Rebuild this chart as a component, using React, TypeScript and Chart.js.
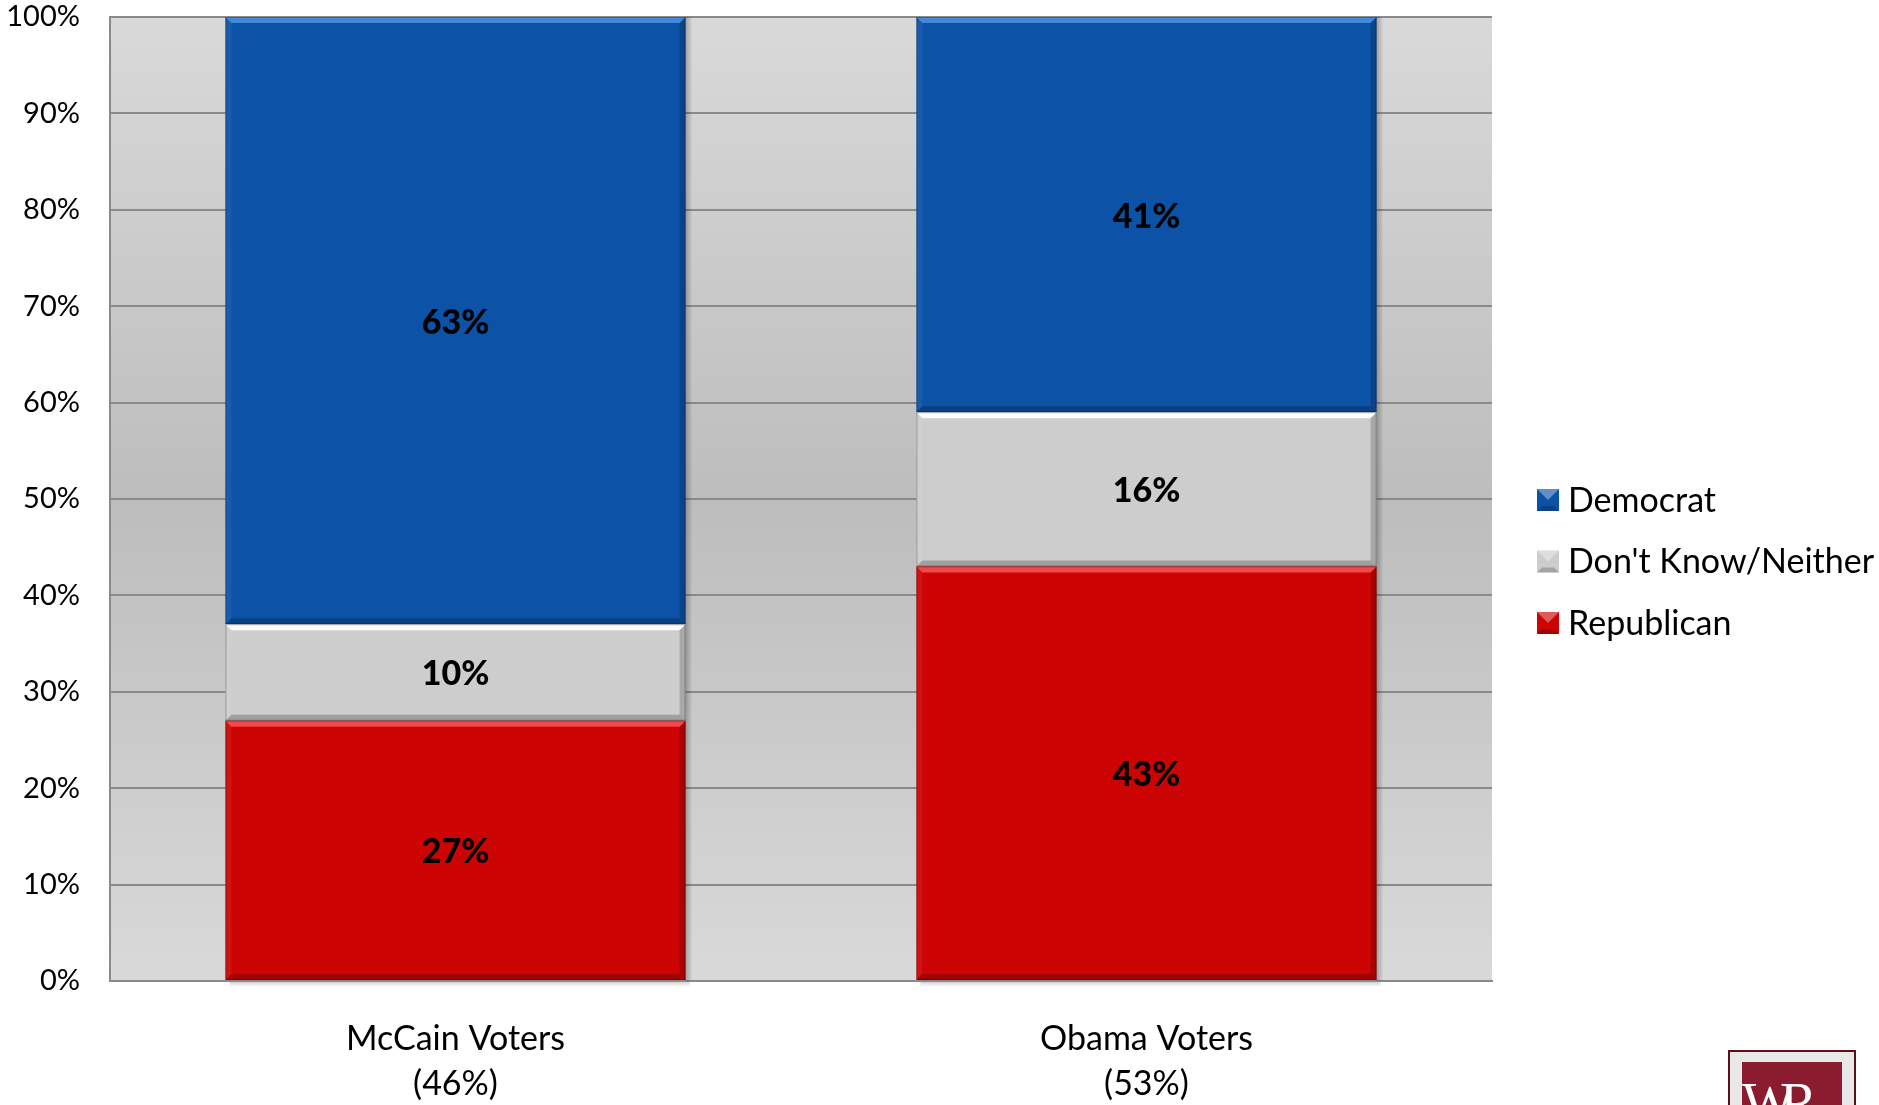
import React, { useEffect, useRef } from "react";
import { Chart, registerables } from "chart.js";

Chart.register(...registerables);

const categories: string[][] = [["McCain Voters", "(46%)"], ["Obama Voters", "(53%)"]];
const republican = [27, 43];
const dontKnow = [10, 16];
const democrat = [63, 41];
const yTicks = [0, 10, 20, 30, 40, 50, 60, 70, 80, 90, 100];

const FONT = "Lato, 'Open Sans', sans-serif";

const bgPlugin = {
  id: "bgGradient",
  beforeDraw(chart: any) {
    const { ctx, chartArea: a } = chart;
    const g = ctx.createLinearGradient(0, a.top, 0, a.bottom);
    g.addColorStop(0, "#d9d9d9");
    g.addColorStop(0.5, "#bdbdbd");
    g.addColorStop(1, "#d9d9d9");
    ctx.save();
    ctx.fillStyle = g;
    ctx.fillRect(a.left, a.top, a.right - a.left, a.bottom - a.top);
    ctx.restore();
  },
};

const bevelPlugin = {
  id: "bevel",
  afterDatasetsDraw(chart: any) {
    const ctx = chart.ctx;
    ctx.save();
    const meta0 = chart.getDatasetMeta(0);
    meta0.data.forEach((el: any) => {
      const l = el.x - el.width / 2;
      const r = el.x + el.width / 2;
      const top = chart.chartArea.top;
      const bottom = chart.chartArea.bottom;
      const g = ctx.createLinearGradient(r, 0, r + 7, 0);
      g.addColorStop(0, "rgba(0,0,0,0.25)");
      g.addColorStop(1, "rgba(0,0,0,0)");
      ctx.fillStyle = g;
      ctx.fillRect(r, top, 7, bottom - top);
      const g2 = ctx.createLinearGradient(0, bottom, 0, bottom + 6);
      g2.addColorStop(0, "rgba(0,0,0,0.2)");
      g2.addColorStop(1, "rgba(0,0,0,0)");
      ctx.fillStyle = g2;
      ctx.fillRect(l + 4, bottom + 1, r - l, 6);
    });
    chart.data.datasets.forEach((ds: any, di: number) => {
      const meta = chart.getDatasetMeta(di);
      meta.data.forEach((el: any) => {
        const l = el.x - el.width / 2;
        const r = el.x + el.width / 2;
        const t = Math.min(el.y, el.base);
        const b = Math.max(el.y, el.base);
        const s = 6;
        const hl = ds.bevelLight || "rgba(255,255,255,0.35)";
        const poly = (pts: number[][], c: string) => {
          ctx.beginPath();
          ctx.moveTo(pts[0][0], pts[0][1]);
          for (let k = 1; k < pts.length; k++) ctx.lineTo(pts[k][0], pts[k][1]);
          ctx.closePath();
          ctx.fillStyle = c;
          ctx.fill();
        };
        poly([[l, t], [r, t], [r - s, t + s], [l + s, t + s]], hl);
        poly([[l, t], [l + s, t + s], [l + s, b - s], [l, b]], "rgba(255,255,255,0.06)");
        poly([[r, t], [r, b], [r - s, b - s], [r - s, t + s]], "rgba(0,0,0,0.18)");
        poly([[l, b], [l + s, b - s], [r - s, b - s], [r, b]], "rgba(0,0,0,0.22)");
        ctx.strokeStyle = "rgba(0,0,0,0.25)";
        ctx.lineWidth = 1;
        ctx.strokeRect(l + 0.5, t + 0.5, r - l - 1, b - t - 1);
      });
    });
    ctx.restore();
  },
};

const labelPlugin = {
  id: "valueLabels",
  afterDatasetsDraw(chart: any) {
    const ctx = chart.ctx;
    ctx.save();
    ctx.font = `900 34px ${FONT}`;
    ctx.fillStyle = "#000";
    ctx.textAlign = "center";
    ctx.textBaseline = "middle";
    chart.data.datasets.forEach((ds: any, di: number) => {
      const meta = chart.getDatasetMeta(di);
      meta.data.forEach((el: any, i: number) => {
        const v = ds.data[i];
        ctx.fillText(`${v}%`, el.x, (el.y + el.base) / 2 + 2);
      });
    });
    ctx.restore();
  },
};

const legendPlugin = {
  id: "customLegend",
  afterDraw(chart: any) {
    const ctx = chart.ctx;
    const items = [...chart.data.datasets].reverse();
    const x0 = 1537;
    const y0 = 500;
    const gap = 61.5;
    ctx.save();
    ctx.font = `34px ${FONT}`;
    ctx.textBaseline = "middle";
    ctx.textAlign = "left";
    items.forEach((ds: any, i: number) => {
      const cy = y0 + i * gap;
      const sz = 22;
      const l = x0, t = cy - sz / 2;
      ctx.fillStyle = ds.backgroundColor;
      ctx.fillRect(l, t, sz, sz);
      const s = 5;
      ctx.fillStyle = "rgba(255,255,255,0.35)";
      ctx.beginPath();
      ctx.moveTo(l, t); ctx.lineTo(l + sz, t); ctx.lineTo(l + sz / 2, t + sz / 2); ctx.closePath(); ctx.fill();
      ctx.fillStyle = "rgba(0,0,0,0.2)";
      ctx.beginPath();
      ctx.moveTo(l, t + sz); ctx.lineTo(l + sz, t + sz); ctx.lineTo(l + sz - s, t + sz - s); ctx.lineTo(l + s, t + sz - s); ctx.closePath(); ctx.fill();
      ctx.fillStyle = "#000";
      ctx.fillText(ds.label, 1568, cy + 1);
    });
    ctx.restore();
  },
};

const logoPlugin = {
  id: "logo",
  afterDraw(chart: any) {
    const ctx = chart.ctx;
    ctx.save();
    const l = 1728, t = 1050, w = 128, h = 60;
    ctx.fillStyle = "#5a0f1c";
    ctx.fillRect(l, t, w, h);
    ctx.fillStyle = "#e8e8e8";
    ctx.fillRect(l + 2, t + 2, w - 4, h);
    ctx.fillStyle = "#8b1c2f";
    ctx.fillRect(l + 14, t + 12, w - 28, h);
    ctx.fillStyle = "#ffffff";
    ctx.font = "56px 'Liberation Serif', serif";
    ctx.textBaseline = "alphabetic";
    ctx.textAlign = "left";
    ctx.fillText("W", l + 14, t + 72);
    ctx.fillText("R", l + 52, t + 72);
    ctx.restore();
  },
};

export default function App() {
  const ref = useRef<HTMLCanvasElement | null>(null);
  useEffect(() => {
    if (!ref.current) return;
    const chart = new Chart(ref.current, {
      type: "bar",
      data: {
        labels: categories,
        datasets: [
          { label: "Republican", data: republican, backgroundColor: "#cc0404", bevelLight: "rgba(255,90,90,0.8)" } as any,
          { label: "Don't Know/Neither", data: dontKnow, backgroundColor: "#cdcdcd", bevelLight: "rgba(255,255,255,0.95)" } as any,
          { label: "Democrat", data: democrat, backgroundColor: "#0c52a6", bevelLight: "rgba(80,150,230,0.8)" } as any,
        ],
      },
      options: {
        responsive: false,
        animation: false,
        events: [],
        layout: { padding: { top: 17, right: 387, bottom: 0, left: 0 } },
        datasets: { bar: { categoryPercentage: 1, barPercentage: 0.666, borderWidth: 0 } },
        plugins: { legend: { display: false }, tooltip: { enabled: false } },
        scales: {
          x: {
            stacked: true,
            grid: { display: false, drawTicks: false },
            border: { display: true, color: "#8a8a8a", width: 2 },
            ticks: {
              color: "#000",
              padding: 36,
              font: { family: FONT, size: 34, lineHeight: 1.32 },
              maxRotation: 0,
            },
            afterFit: (s: any) => { s.height = 124; s.paddingLeft = 0; s.paddingRight = 0; },
          },
          y: {
            stacked: true,
            min: 0,
            max: 100,
            afterBuildTicks: (s: any) => { s.ticks = yTicks.map((v) => ({ value: v })); },
            grid: { color: "#8a8a8a", lineWidth: 2, drawTicks: false },
            border: { display: true, color: "#8a8a8a", width: 2 },
            ticks: {
              color: "#000",
              padding: 30,
              font: { family: FONT, size: 29 },
              callback: (v: any) => `${v}%`,
            },
            afterFit: (s: any) => { s.width = 110; s.paddingTop = 0; s.paddingBottom = 0; },
          },
        },
      },
      plugins: [bgPlugin, bevelPlugin, labelPlugin, legendPlugin, logoPlugin],
    });
    return () => chart.destroy();
  }, []);
  return (
    <div style={{ position: "absolute", left: 0, top: 0, width: 1879, height: 1105, overflow: "hidden", background: "#fff" }}>
      <canvas ref={ref} width={1879} height={1105} style={{ display: "block" }} />
    </div>
  );
}
